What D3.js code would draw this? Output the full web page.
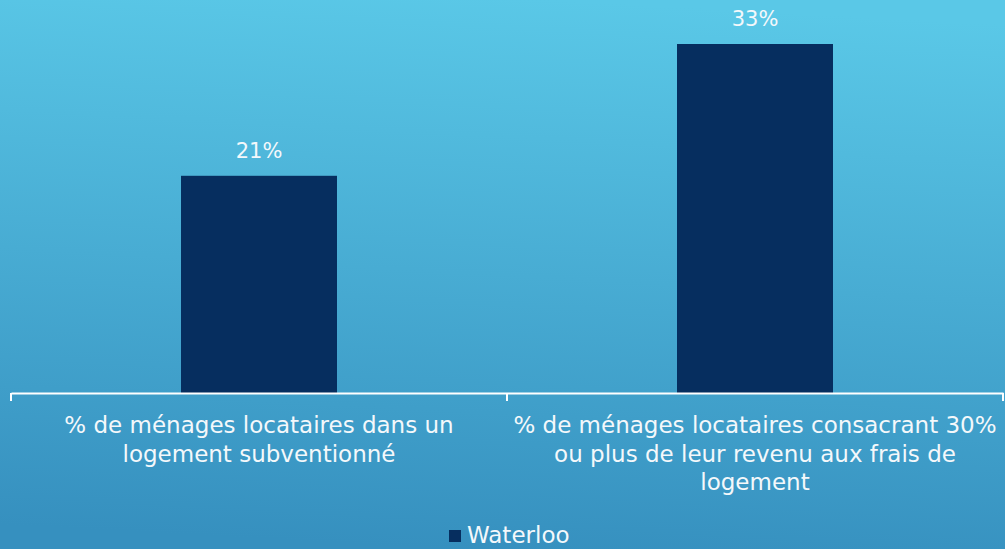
<!DOCTYPE html>
<html>
<head>
<meta charset="utf-8">
<script src="https://cdn.jsdelivr.net/npm/d3@7"></script>
<style>
  html, body { margin: 0; padding: 0; overflow: hidden; }
  svg { display: block; }
  text { font-family: "DejaVu Sans", sans-serif; fill: #f4f8fb; }
</style>
</head>
<body>
<svg id="chart" width="1005" height="549"></svg>
<script>
// ---- data ----
const categories = [
  ["% de ménages locataires dans un", "logement subventionné"],
  ["% de ménages locataires consacrant 30%", "ou plus de leur revenu aux frais de", "logement"]
];
const seriesName = "Waterloo";
const values = [20.6, 33.1];
const valueLabels = ["21%", "33%"];

// ---- layout ----
const W = 1005, H = 549;
const svg = d3.select("#chart");

const defs = svg.append("defs");
const grad = defs.append("linearGradient").attr("id", "bg")
  .attr("x1", "55%").attr("y1", "0%").attr("x2", "45%").attr("y2", "100%");
grad.append("stop").attr("offset", "0%").attr("stop-color", "#5ac8e7");
grad.append("stop").attr("offset", "100%").attr("stop-color", "#3690bf");
svg.append("rect").attr("width", W).attr("height", H).attr("fill", "url(#bg)");

const keys = categories.map((c, i) => i);
const x = d3.scaleBand().domain(keys).range([11, 1003]).padding(0);
const xInner = d3.scaleBand().domain([seriesName]).range([0, x.bandwidth()])
  .paddingInner(0).paddingOuter(1.09);
const y = d3.scaleLinear().domain([0, 33.1]).range([393, 44]);

const barColor = "#062e5f";

// bars
svg.append("g").selectAll("rect").data(values).join("rect")
  .attr("x", (d, i) => x(i) + xInner(seriesName))
  .attr("y", d => y(d))
  .attr("width", xInner.bandwidth())
  .attr("height", d => y(0) - y(d))
  .attr("fill", barColor);

// value labels
svg.append("g").selectAll("text").data(values).join("text")
  .attr("x", (d, i) => x(i) + x.bandwidth() / 2)
  .attr("y", d => y(d) - 18)
  .attr("text-anchor", "middle")
  .style("font-size", "21px")
  .text((d, i) => valueLabels[i]);

// axis
const axis = d3.axisBottom(x).tickSize(0).tickFormat(() => "");
const gAxis = svg.append("g").attr("transform", `translate(0,${y(0)})`).call(axis);
gAxis.select(".domain").attr("stroke", "#ffffff").attr("stroke-width", 2);
// category boundary ticks
const bounds = [...keys.map(k => x(k)), x.range()[1]];
gAxis.selectAll("line.bound").data(bounds).join("line")
  .attr("class", "bound")
  .attr("x1", d => d).attr("x2", d => d)
  .attr("y1", 0).attr("y2", 8)
  .attr("stroke", "#ffffff").attr("stroke-width", 2);

// category labels
const lab = svg.append("g").selectAll("text").data(categories).join("text")
  .attr("text-anchor", "middle")
  .style("font-size", "23px");
lab.each(function(lines, i) {
  const t = d3.select(this);
  lines.forEach((ln, j) => {
    t.append("tspan")
      .attr("x", x(i) + x.bandwidth() / 2)
      .attr("y", 433 + j * 28.5)
      .text(ln);
  });
});

// legend
const leg = svg.append("g").attr("transform", "translate(449,530)");
leg.append("rect").attr("width", 12).attr("height", 12).attr("fill", barColor);
leg.append("text").attr("x", 18).attr("y", 13).style("font-size", "23px").text(seriesName);
</script>
</body>
</html>
